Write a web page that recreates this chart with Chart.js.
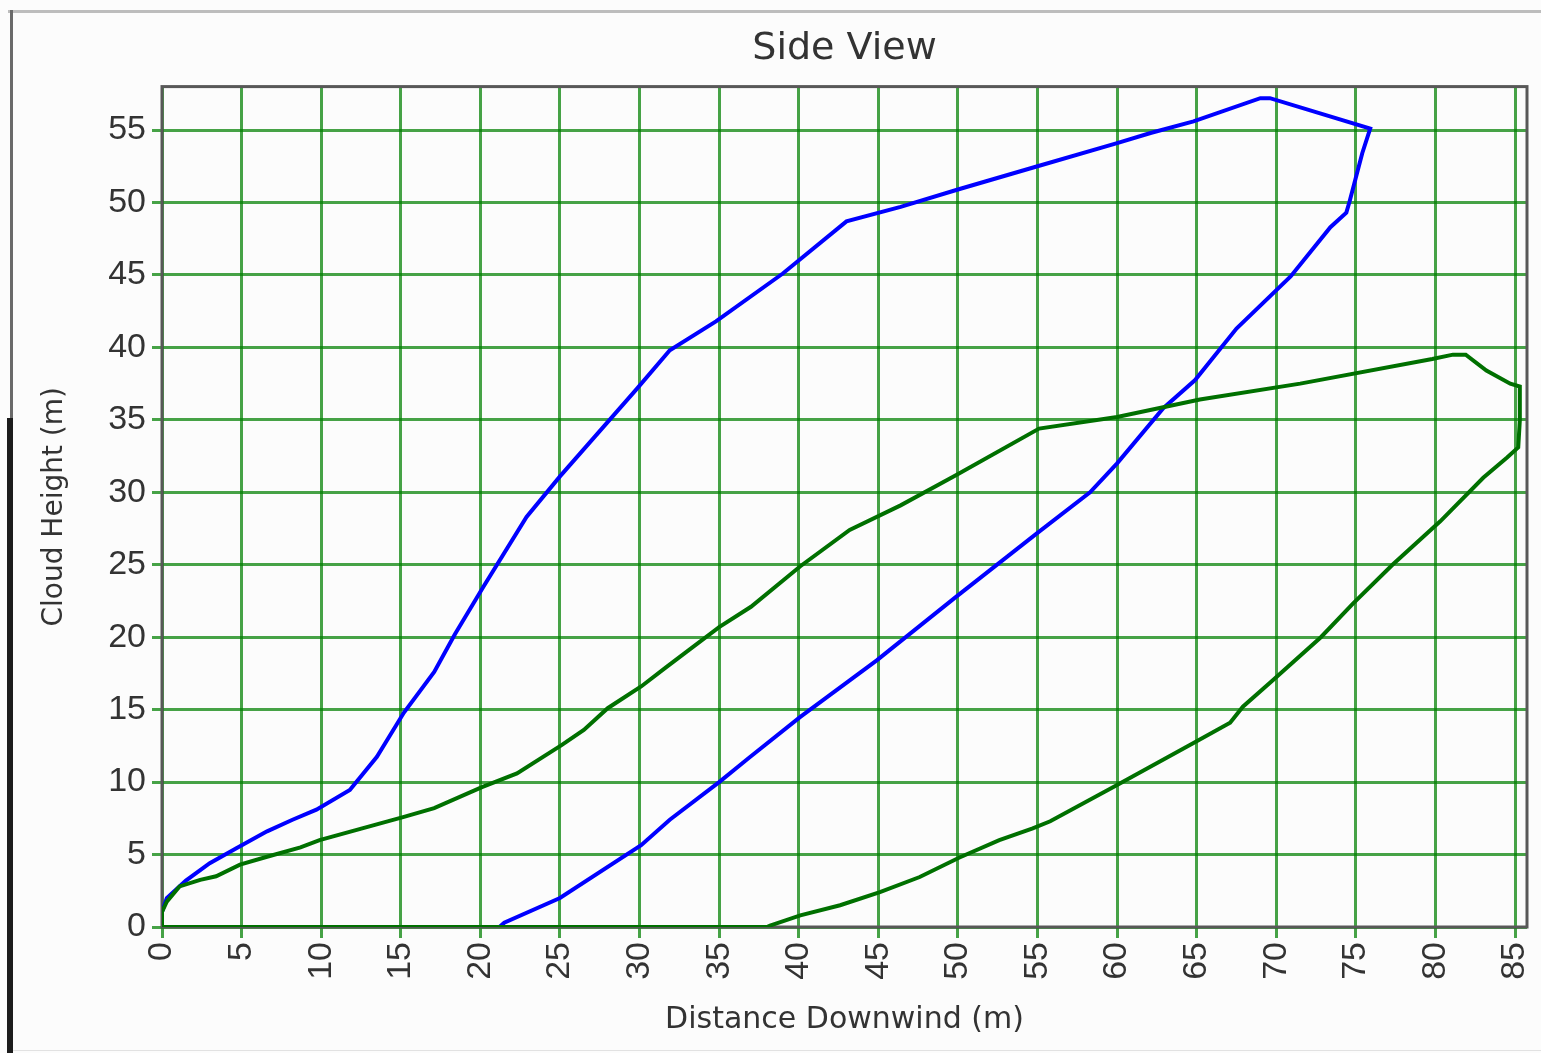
<!DOCTYPE html>
<html>
<head>
<meta charset="utf-8">
<title>Side View</title>
<script src="https://cdn.jsdelivr.net/npm/chart.js@4/dist/chart.umd.min.js"></script>
<style>
  html, body { margin: 0; padding: 0; background: #fcfcfc; }
  #wrap { position: relative; width: 1541px; height: 1053px; overflow: hidden; }
  #chart { position: absolute; left: 0; top: 0; }
  .edge { position: absolute; }
</style>
</head>
<body>
<div id="wrap">
  <div class="edge" style="left:8px;top:10px;width:1533px;height:3px;background:#bdbdbd;"></div>
  <div class="edge" style="left:10px;top:10px;width:3px;height:410px;background:#6a6a6a;"></div>
  <div class="edge" style="left:7px;top:418px;width:6px;height:635px;background:#1c1c1c;"></div>
  <div class="edge" style="left:13px;top:1050px;width:1528px;height:1px;background:#e2e2e2;"></div>
  <canvas id="chart" width="1541" height="1053"></canvas>
</div>
<script>
'use strict';

// blue outline (upper edge out, lower edge back)
let blueX = [0, 0, 0.3, 1.5, 3.0, 4.7, 6.6, 8.2, 9.7, 11.8, 13.5, 15.2, 17.1, 18.4, 20.2, 22.9, 25.0,
  29.8, 31.9, 34.8, 39.0, 43.0, 46.4, 50.0, 55.0, 60.0, 62.1, 64.8, 69.0, 69.6, 75.9, 75.4, 74.6,
  74.4, 73.4, 70.9, 67.5, 64.9, 62.9, 60.0, 58.3, 55.0, 49.9, 44.9, 40.1, 36.9, 35.0, 31.9, 30.1,
  25.0, 21.5, 21.2, 0];
let blueY = [0, 1.05, 2.0, 3.2, 4.4, 5.45, 6.6, 7.4, 8.1, 9.45, 11.75, 14.8, 17.6, 20.2, 23.5, 28.3, 31.1,
  37.1, 39.8, 41.8, 45.1, 48.7, 49.7, 50.9, 52.5, 54.1, 54.8, 55.6, 57.2, 57.2, 55.1, 53.4, 50.05,
  49.3, 48.3, 44.9, 41.3, 37.75, 35.8, 32.0, 30.0, 27.2, 22.8, 18.4, 14.5, 11.7, 10.0, 7.4, 5.65,
  2.0, 0.3, 0, 0];

// green outline
let greenX = [0, 0, 0.3, 1.1, 2.4, 3.4, 4.9, 6.6, 8.7, 9.9, 15.2, 17.1, 20.1, 22.3, 25.1, 26.5, 28.0,
  30.1, 31.7, 35.0, 37.0, 40.1, 43.2, 46.4, 49.9, 55.1, 60.0, 65.2, 71.5, 79.8, 81.1, 81.9, 83.2,
  84.7, 85.3, 85.3, 85.2, 84.5, 83.0, 80.3, 77.3, 74.8, 72.8, 69.8, 67.9, 67.1, 64.8, 60.0, 55.8,
  54.7, 52.6, 50.1, 47.6, 45.1, 42.6, 40.1, 38.2, 38.0, 0];
let greenY = [0, 1.05, 1.75, 2.8, 3.25, 3.5, 4.3, 4.85, 5.5, 6.0, 7.6, 8.2, 9.65, 10.6, 12.55, 13.6, 15.1,
  16.6, 17.95, 20.7, 22.1, 24.9, 27.4, 29.1, 31.2, 34.4, 35.2, 36.4, 37.5, 39.2, 39.5, 39.5, 38.4,
  37.5, 37.3, 35.0, 33.1, 32.4, 31.0, 28.0, 25.0, 22.3, 20.0, 17.05, 15.2, 14.1, 12.7, 9.8, 7.3,
  6.8, 6.0, 4.8, 3.45, 2.4, 1.5, 0.8, 0.1, 0, 0];

let xTicks = [0, 5, 10, 15, 20, 25, 30, 35, 40, 45, 50, 55, 60, 65, 70, 75, 80, 85];
let yTicks = [0, 5, 10, 15, 20, 25, 30, 35, 40, 45, 50, 55];
let xMax = 85.75;
let yMax = 58;

function toPoints(xs, ys) {
  let pts = [];
  for (let i = 0; i < xs.length; i++) {
    pts.push({ x: xs[i], y: ys[i] });
  }
  return pts;
}

let plotFrame = {
  id: 'plotFrame',
  beforeDatasetsDraw(chart) {
    const { ctx, chartArea } = chart;
    ctx.save();
    ctx.strokeStyle = '#585858';
    ctx.lineWidth = 3;
    ctx.strokeRect(chartArea.left, chartArea.top, chartArea.right - chartArea.left, chartArea.bottom - chartArea.top);
    ctx.restore();
  }
};

let gridColor = 'rgba(0, 128, 0, 0.72)';
let textColor = '#333333';

const ctx = document.getElementById('chart').getContext('2d');
let chart = new Chart(ctx, { //eslint-disable-line
  type: 'scatter',
  data: {
    datasets: [
      {
        label: 'green',
        data: toPoints(greenX, greenY),
        showLine: true,
        borderColor: '#007000',
        borderWidth: 4,
        pointRadius: 0,
        tension: 0
      },
      {
        label: 'blue',
        data: toPoints(blueX, blueY),
        showLine: true,
        borderColor: '#0000ff',
        borderWidth: 4,
        pointRadius: 0,
        tension: 0
      }
    ]
  },
  options: {
    responsive: false,
    animation: false,
    devicePixelRatio: 1,
    layout: { padding: { left: 0, right: 14, top: 0, bottom: 0 } },
    plugins: {
      legend: { display: false },
      tooltip: { enabled: false },
      title: {
        display: true,
        text: 'Side View',
        fullSize: false,
        color: textColor,
        font: { family: 'DejaVu Sans', size: 38, weight: 'normal' },
        padding: { top: 26, bottom: 15 }
      }
    },
    scales: {
      x: {
        type: 'linear',
        min: 0,
        max: xMax,
        afterBuildTicks(axis) { axis.ticks = xTicks.map(v => ({ value: v })); },
        afterFit(scale) {
          scale.height = 126;
          scale.paddingLeft = 0;
          scale.paddingRight = 0;
        },
        border: { display: false },
        grid: { color: gridColor, lineWidth: 3, tickLength: 11, tickColor: gridColor },
        ticks: {
          minRotation: 90,
          maxRotation: 90,
          padding: 4,
          color: textColor,
          font: { family: 'Liberation Sans', size: 34 }
        },
        title: {
          display: true,
          text: 'Distance Downwind (m)',
          color: textColor,
          font: { family: 'DejaVu Sans', size: 30 },
          padding: { top: 0, bottom: 15 }
        }
      },
      y: {
        type: 'linear',
        min: 0,
        max: yMax,
        afterBuildTicks(axis) { axis.ticks = yTicks.map(v => ({ value: v })); },
        afterFit(scale) { scale.width = 162; },
        border: { display: false },
        grid: { color: gridColor, lineWidth: 3, tickLength: 10, tickColor: gridColor },
        ticks: {
          padding: 6,
          color: textColor,
          font: { family: 'Liberation Sans', size: 34 }
        },
        title: {
          display: true,
          text: 'Cloud Height (m)',
          color: textColor,
          font: { family: 'DejaVu Sans', size: 28 },
          padding: { top: 38, bottom: 0 }
        }
      }
    }
  },
  plugins: [plotFrame]
});
</script>
</body>
</html>
